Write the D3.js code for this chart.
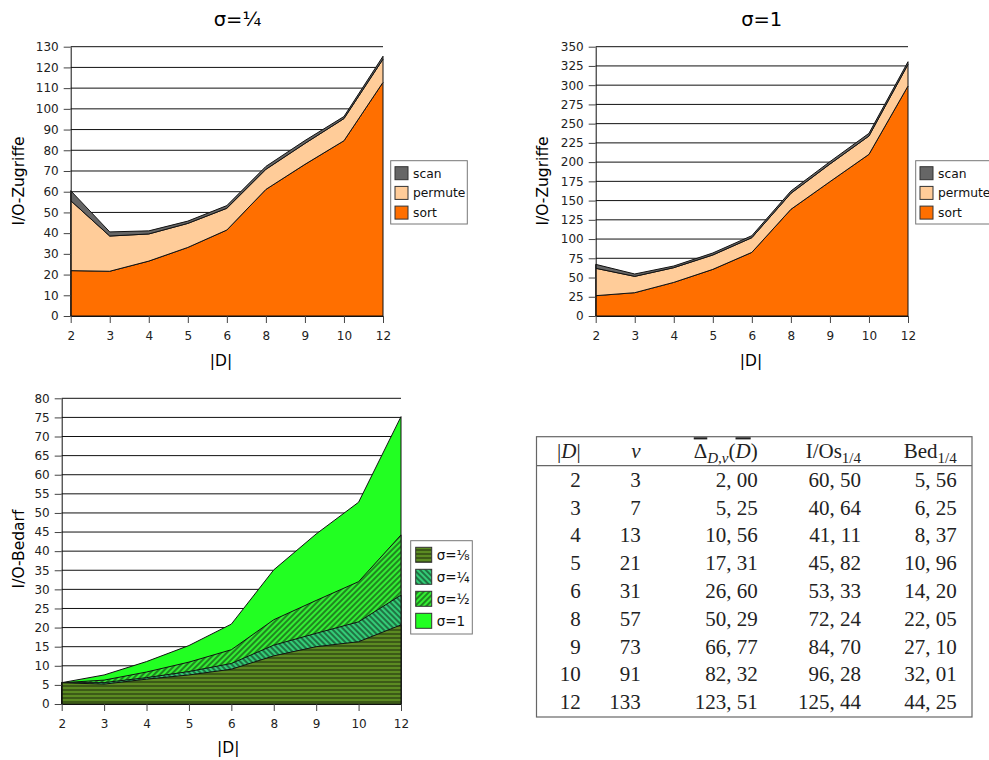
<!DOCTYPE html>
<html>
<head>
<meta charset="utf-8">
<script src="https://cdn.jsdelivr.net/npm/d3@7"></script>
<style>
  body { margin: 0; background: #fff; }
  svg { display: block; }
  text { font-family: "DejaVu Sans", sans-serif; }
  text.tex { font-family: "Liberation Serif", "DejaVu Serif", serif; }
</style>
</head>
<body>
<svg id="svg" width="989" height="760"></svg>
<script>
// categories |D|
const dims = ["2", "3", "4", "5", "6", "8", "9", "10", "12"];

// sigma = 1/4, stacked parts (I/O-Zugriffe)
const sortQuarter = [21.9, 21.6, 26.5, 33.1, 41.5, 61.1, 73.2, 84.6, 112.8];
const permuteQuarter = [33.8, 17.0, 13.1, 11.6, 10.5, 9.7, 10.1, 10.7, 11.2];
const scanQuarter = [4.8, 2.0, 1.5, 1.1, 1.3, 1.4, 1.4, 1.0, 1.4];

// sigma = 1, stacked parts
const sortOne = [26.4, 30.3, 43.7, 60.6, 82.7, 138.6, 174.6, 210.1, 298.9];
const permuteOne = [35.6, 21.2, 19.1, 18.7, 19.1, 20.8, 22.9, 23.8, 28.1];
const scanOne = [5.1, 3.1, 2.2, 2.6, 2.6, 3.0, 3.1, 3.5, 3.5];

// I/O-Bedarf per sigma
const bedEighth = [5.56, 5.2, 6.5, 7.6, 9.1, 12.6, 15.0, 16.3, 20.7];
const bedQuarter = [5.56, 5.6, 6.9, 8.5, 10.6, 15.4, 18.5, 21.5, 28.5];
const bedHalf = [5.56, 6.25, 8.37, 10.96, 14.20, 22.05, 27.10, 32.01, 44.25];
const bedOne = [5.58, 7.6, 11.1, 15.3, 20.9, 35.1, 44.5, 52.8, 75.2];

// table
const tableV = [3, 7, 13, 21, 31, 57, 73, 91, 133];
const tableDelta = [2.00, 5.25, 10.56, 17.31, 26.60, 50.29, 66.77, 82.32, 123.51];
const tableIOs = [60.50, 40.64, 41.11, 45.82, 53.33, 72.24, 84.70, 96.28, 125.44];
const tableBed = [5.56, 6.25, 8.37, 10.96, 14.20, 22.05, 27.10, 32.01, 44.25];

const svg = d3.select('#svg');
const defs = svg.append('defs');

function hatch(id, bg, size, angle, stroke, sw) {
  const p = defs.append('pattern')
    .attr('id', id)
    .attr('patternUnits', 'userSpaceOnUse')
    .attr('width', size).attr('height', size);
  if (angle) p.attr('patternTransform', 'rotate(' + angle + ')');
  p.append('rect').attr('width', size).attr('height', size).attr('fill', bg);
  p.append('line')
    .attr('x1', -1).attr('x2', size + 1)
    .attr('y1', size / 2).attr('y2', size / 2)
    .attr('stroke', stroke).attr('stroke-width', sw);
}
hatch('pEighth', '#5b8a22', 4, 0, '#1c2a0c', 1);
hatch('pQuarter', '#33cc77', 4, 45, '#123a20', 1.2);
hatch('pHalf', '#33ee33', 4, -45, '#124012', 1.2);

function frame(o) {
  const x = d3.scalePoint().domain(dims).range([o.left, o.right]);
  const y = d3.scaleLinear().domain([0, o.max]).range([o.bottom, o.top]);
  const ticks = d3.range(0, o.max + 0.001, o.step);
  const g = svg.append('g');

  g.append('g').selectAll('line')
    .data(ticks.filter(t => t > 0))
    .join('line')
    .attr('x1', o.left).attr('x2', o.right)
    .attr('y1', d => y(d)).attr('y2', d => y(d))
    .attr('stroke', '#111').attr('stroke-width', 1);

  const marks = g.append('g');
  return { x, y, g, marks, ticks, o };
}

function axes(f) {
  const { x, y, g, ticks, o } = f;
  const ya = g.append('g')
    .attr('transform', 'translate(' + o.left + ',0)')
    .call(d3.axisLeft(y).tickValues(ticks).tickSize(7).tickSizeOuter(0).tickPadding(5));
  const xa = g.append('g')
    .attr('transform', 'translate(0,' + o.bottom + ')')
    .call(d3.axisBottom(x).tickSize(7).tickSizeOuter(0).tickPadding(8.5));
  [ya, xa].forEach(a => {
    a.select('.domain').attr('stroke', '#111');
    a.selectAll('.tick line').attr('stroke', '#444');
    a.selectAll('text')
      .attr('fill', '#222')
      .style('font-family', '"DejaVu Sans", sans-serif')
      .style('font-size', '12px');
  });

  g.append('text')
    .attr('x', o.xLabelX).attr('y', o.xLabelY)
    .attr('text-anchor', 'middle')
    .style('font-size', '15.5px')
    .text('|D|');
  g.append('text')
    .attr('transform', 'translate(' + o.yLabelX + ',' + o.yLabelY + ') rotate(-90)')
    .attr('text-anchor', 'middle')
    .style('font-size', '15.5px')
    .text(o.yLabel);
  if (o.title) {
    g.append('text')
      .attr('x', o.titleX).attr('y', 26)
      .attr('text-anchor', 'middle')
      .style('font-size', '19.5px')
      .text(o.title);
  }
}

function legend(o) {
  const g = svg.append('g');
  g.append('rect')
    .attr('x', o.x).attr('y', o.y)
    .attr('width', o.w).attr('height', o.h)
    .attr('fill', '#fff').attr('stroke', '#777').attr('stroke-width', 1);
  const item = g.selectAll('g.item').data(o.items).join('g').attr('class', 'item');
  item.append('rect')
    .attr('x', o.x + o.pad)
    .attr('y', (d, i) => o.y + o.padTop + i * o.pitch)
    .attr('width', o.sw).attr('height', o.sh)
    .attr('fill', d => d.fill)
    .attr('stroke', '#333').attr('stroke-width', 1);
  item.append('text')
    .attr('x', o.x + o.pad + o.sw + o.gap)
    .attr('y', (d, i) => o.y + o.padTop + i * o.pitch + o.sh / 2 + o.fs * 0.37)
    .style('font-size', o.fs + 'px')
    .attr('fill', '#111')
    .text(d => d.label);
}

function stackedChart(o, sortV, permV, scanV) {
  const f = frame(o);
  const rows = dims.map((d, i) => ({ dim: d, sort: sortV[i], permute: permV[i], scan: scanV[i] }));
  const keys = ['sort', 'permute', 'scan'];
  const colors = { sort: '#ff6f00', permute: '#ffcc99', scan: '#666666' };
  const series = d3.stack().keys(keys)(rows);
  const area = d3.area()
    .x(d => f.x(d.data.dim))
    .y0(d => f.y(d[0]))
    .y1(d => f.y(d[1]));
  f.marks.selectAll('path')
    .data(series)
    .join('path')
    .attr('d', area)
    .attr('fill', d => colors[d.key])
    .attr('stroke', '#111')
    .attr('stroke-width', 1)
    .attr('stroke-linejoin', 'round');
  axes(f);
  legend({
    x: o.legendX, y: 160.7, w: 76.6, h: 63.3,
    pad: 4.3, padTop: 6, pitch: 19.7, sw: 13, sh: 13, gap: 5, fs: 12.3,
    items: keys.slice().reverse().map(k => ({ label: k, fill: colors[k] }))
  });
}

stackedChart({
  left: 70.7, right: 383, top: 46.7, bottom: 316, max: 130, step: 10,
  xLabelX: 221, xLabelY: 365.5, yLabelX: 24, yLabelY: 181, yLabel: 'I/O-Zugriffe',
  title: 'σ=¼', titleX: 237.5, legendX: 390.7
}, sortQuarter, permuteQuarter, scanQuarter);

stackedChart({
  left: 595.7, right: 908, top: 46.7, bottom: 316, max: 350, step: 25,
  xLabelX: 751, xLabelY: 365.5, yLabelX: 548, yLabelY: 181, yLabel: 'I/O-Zugriffe',
  title: 'σ=1', titleX: 761.7, legendX: 915.7
}, sortOne, permuteOne, scanOne);

// bottom chart: overlapping areas
(function () {
  const o = {
    left: 61.7, right: 401, top: 398.3, bottom: 704, max: 80, step: 5,
    xLabelX: 228.3, xLabelY: 753, yLabelX: 24, yLabelY: 549, yLabel: 'I/O-Bedarf'
  };
  const f = frame(o);
  const layers = [
    { label: 'σ=⅛', values: bedEighth, fill: 'url(#pEighth)' },
    { label: 'σ=¼', values: bedQuarter, fill: 'url(#pQuarter)' },
    { label: 'σ=½', values: bedHalf, fill: 'url(#pHalf)' },
    { label: 'σ=1', values: bedOne, fill: '#22ff22' }
  ];
  const area = d3.area()
    .x((d, i) => f.x(dims[i]))
    .y0(f.y(0))
    .y1(d => f.y(d));
  f.marks.selectAll('path')
    .data(layers.slice().reverse())
    .join('path')
    .attr('d', d => area(d.values))
    .attr('fill', d => d.fill)
    .attr('stroke', '#111')
    .attr('stroke-width', 1)
    .attr('stroke-linejoin', 'round');
  axes(f);
  legend({
    x: 410.7, y: 540.7, w: 61.6, h: 93.3,
    pad: 5, padTop: 6.6, pitch: 22, sw: 16, sh: 15, gap: 5, fs: 13.5,
    items: layers
  });
})();

// table
(function () {
  const fmt = v => d3.format('.2f')(v).replace('.', ', ');
  const tg = svg.append('g');
  tg.append('rect')
    .attr('x', 536.5).attr('y', 436.7).attr('width', 435.5).attr('height', 280.3)
    .attr('fill', 'none').attr('stroke', '#666').attr('stroke-width', 1.2);
  tg.append('line')
    .attr('x1', 536.5).attr('x2', 972).attr('y1', 465.7).attr('y2', 465.7)
    .attr('stroke', '#666').attr('stroke-width', 1.2);

  const colX = [580.7, 640.7, 757.7, 861, 956.7];
  const hy = 458.3;
  const head = (x) => tg.append('text')
    .attr('class', 'tex')
    .attr('x', x).attr('y', hy)
    .attr('text-anchor', 'end')
    .style('font-size', '21px').attr('fill', '#222');

  let t = head(colX[0]);
  t.append('tspan').text('|');
  t.append('tspan').style('font-style', 'italic').text('D');
  t.append('tspan').text('|');

  t = head(colX[1]);
  t.append('tspan').style('font-style', 'italic').text('v');

  t = head(colX[2]);
  t.append('tspan').style('text-decoration', 'overline').text('Δ');
  t.append('tspan').attr('dy', 5).style('font-style', 'italic').style('font-size', '15px').text('D,v');
  t.append('tspan').attr('dy', -5).text('(');
  t.append('tspan').style('font-style', 'italic').style('text-decoration', 'overline').text('D');
  t.append('tspan').text(')');

  t = head(colX[3]);
  t.append('tspan').text('I/Os');
  t.append('tspan').attr('dy', 5).style('font-size', '15px').text('1/4');

  t = head(colX[4]);
  t.append('tspan').text('Bed');
  t.append('tspan').attr('dy', 5).style('font-size', '15px').text('1/4');

  const rows = dims.map((d, i) => [d, String(tableV[i]), fmt(tableDelta[i]), fmt(tableIOs[i]), fmt(tableBed[i])]);
  const rowG = tg.selectAll('g.row').data(rows).join('g').attr('class', 'row');
  rowG.selectAll('text')
    .data((r, i) => r.map((c, j) => ({ c, j, i })))
    .join('text')
    .attr('class', 'tex')
    .attr('x', d => colX[d.j])
    .attr('y', d => 486.7 + d.i * 27.8)
    .attr('text-anchor', 'end')
    .style('font-size', '21px')
    .attr('fill', '#222')
    .text(d => d.c);
})();
</script>
</body>
</html>
